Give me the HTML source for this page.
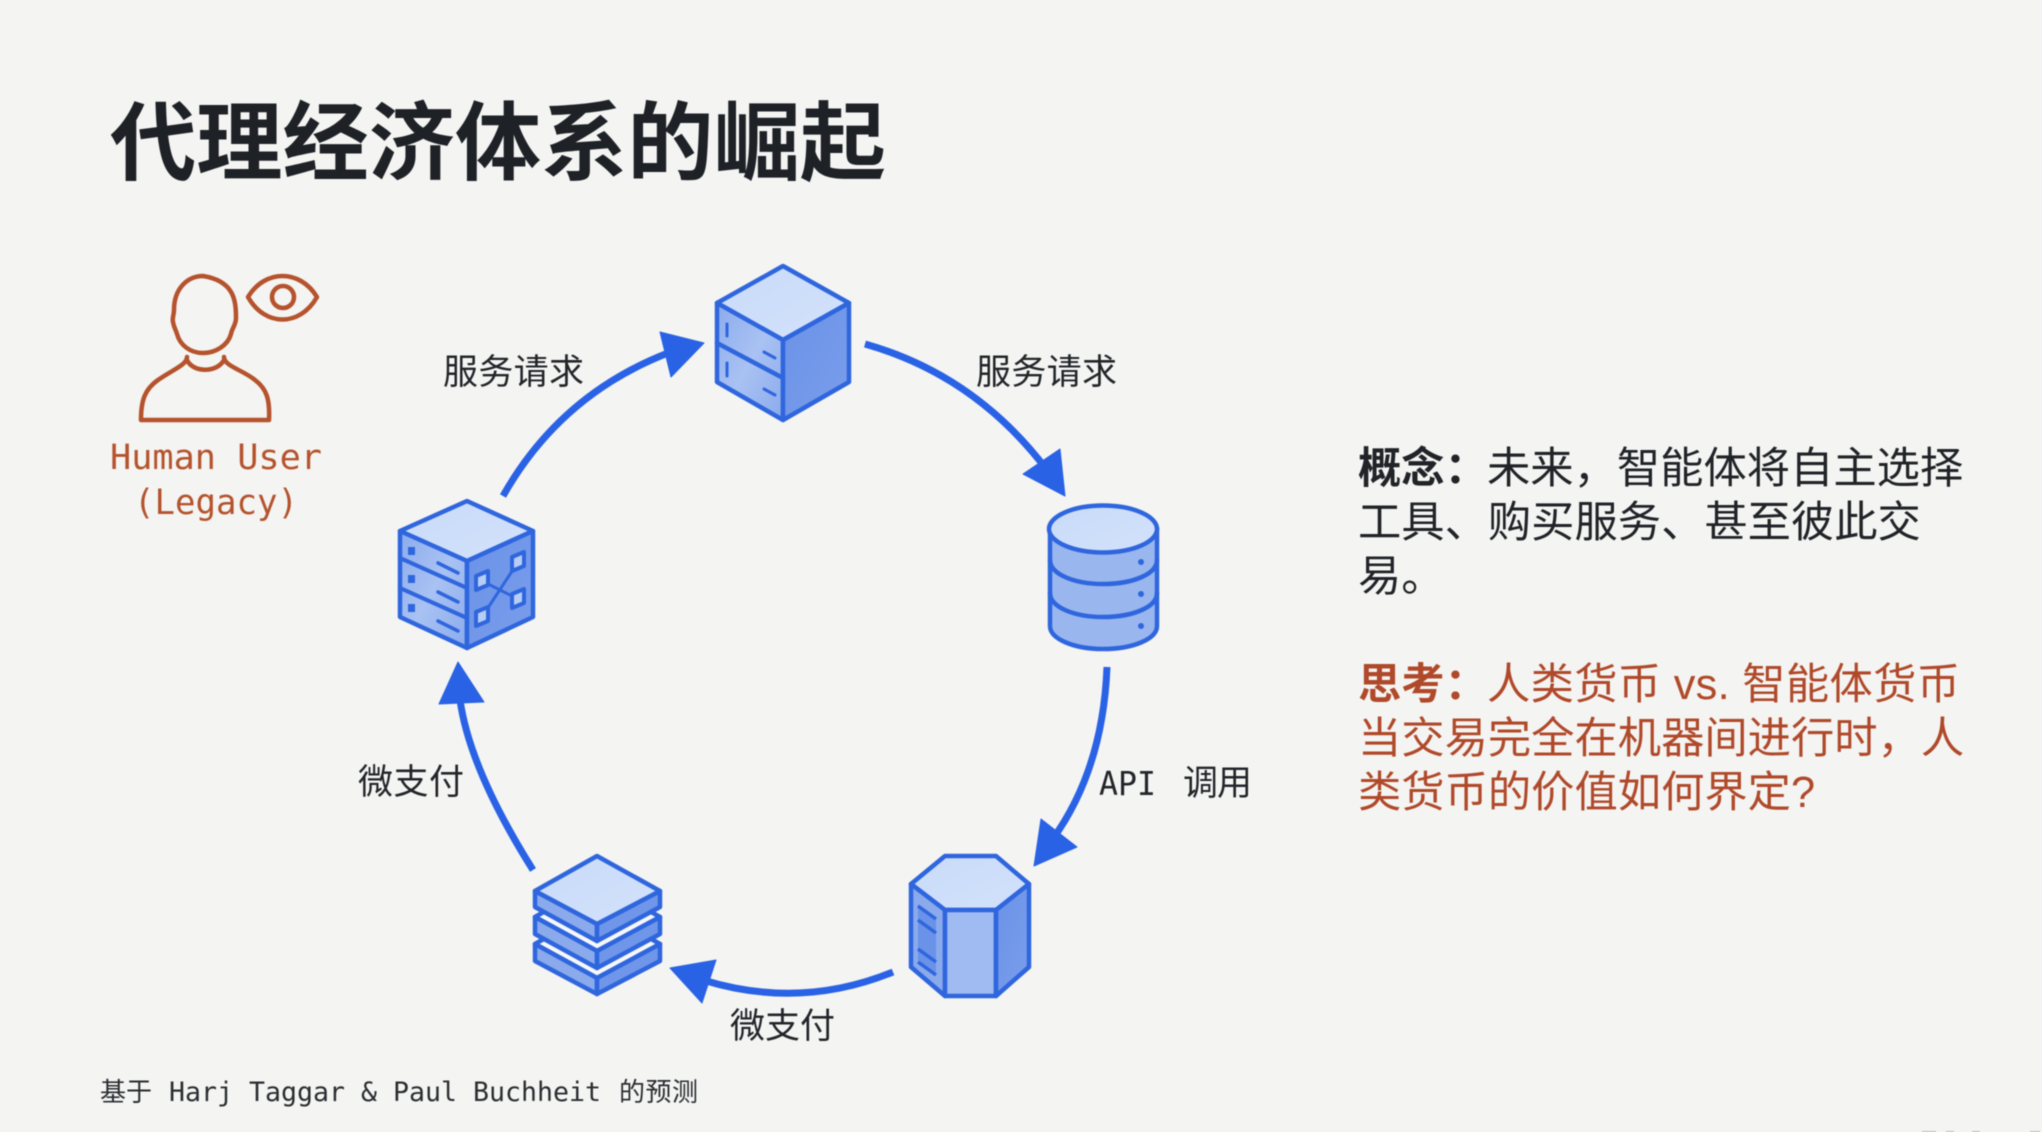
<!DOCTYPE html>
<html lang="zh-CN">
<head>
<meta charset="utf-8">
<title>代理经济体系的崛起</title>
<style>
html,body{margin:0;padding:0;background:#f4f4f2;width:2042px;height:1132px;overflow:hidden}
svg{display:block;filter:blur(.6px)}
.cjk{font-family:"Liberation Sans","Noto Sans CJK SC",sans-serif}
.mono{font-family:"DejaVu Sans Mono","Liberation Mono","Noto Sans CJK SC",monospace}
.lab{font-family:"Liberation Sans","Noto Sans CJK SC",sans-serif;font-size:35px;fill:#222529}
.body{font-family:"Liberation Sans","Noto Sans CJK SC",sans-serif;font-size:43.3px}
.i{stroke:#2f66de;stroke-width:4.5;stroke-linejoin:round;stroke-linecap:round}
.a{fill:none;stroke:#2a62e6;stroke-width:7;stroke-linecap:butt}
.h{fill:#2a62e6;stroke:#2a62e6;stroke-width:1;stroke-linejoin:round}
.p{fill:none;stroke:#b5532d;stroke-width:4.5;stroke-linejoin:round;stroke-linecap:round}
</style>
</head>
<body>
<svg width="2042" height="1132" viewBox="0 0 2042 1132" xmlns="http://www.w3.org/2000/svg">
<defs>
<linearGradient id="t" x1="0" y1="0" x2="1" y2="1"><stop offset="0" stop-color="#c9dbf9"/><stop offset="1" stop-color="#d3e2fb"/></linearGradient>
<linearGradient id="l" x1="0" y1="0" x2="1" y2="1"><stop offset="0" stop-color="#8babec"/><stop offset=".5" stop-color="#a9c2f3"/><stop offset="1" stop-color="#8aaaec"/></linearGradient>
<linearGradient id="r" x1="0" y1="0" x2="1" y2="1"><stop offset="0" stop-color="#6a92e8"/><stop offset="1" stop-color="#7b9eeb"/></linearGradient>
</defs>
<rect width="2042" height="1132" fill="#f4f4f2"/>

<!-- Title -->
<text class="cjk" x="110" y="173" font-size="86" font-weight="700" fill="#1e2227" textLength="776" lengthAdjust="spacingAndGlyphs">代理经济体系的崛起</text>

<!-- Person -->
<path class="p" d="M203 276C188 276 174 288 174 310C174 315 172 318 173 322C174 328 176 330 177 334C180 345 190 353 203 353C216 353 228 345 231 334C232 328 236 325 236 318C236 300 234 281 203 276Z"/>
<path class="p" d="M187 357C187 365 172 370 158 380C145 389 141 400 141 420L269 420C270 400 267 389 255 380C243 370 224 366 224 357"/>
<path class="p" d="M187 360C193 373 217 373 224 360"/>
<path class="p" d="M248 297C265 269 300 269 317 297C300 327 265 327 248 297Z"/>
<circle class="p" cx="283" cy="297" r="11"/>
<text class="mono" x="110" y="469" font-size="35" fill="#b5532d" textLength="212" lengthAdjust="spacingAndGlyphs">Human User</text>
<text class="mono" x="134" y="514" font-size="35" fill="#b5532d" textLength="164" lengthAdjust="spacingAndGlyphs">(Legacy)</text>

<!-- Top cube -->
<g class="i">
<polygon points="783,266 849,303 783,340 717,303" fill="url(#t)"/>
<polygon points="717,303 783,340 783,420 717,382" fill="url(#l)"/>
<polygon points="849,303 849,382 783,420 783,340" fill="url(#r)"/>
<path d="M717 343L783 378" fill="none"/>
<path d="M727 324V336M727 363V376M764 352L775 358M764 389L775 395" fill="none" stroke-width="3"/>
</g>

<!-- Database -->
<g class="i">
<path d="M1050 528V626C1050 639 1074 649 1103 649C1133 649 1157 639 1157 626V528Z" fill="#9ab6ef"/>
<ellipse cx="1103" cy="529" rx="54" ry="23.5" fill="url(#t)"/>
<path d="M1050 560C1050 574 1074 584 1103 584C1133 584 1157 574 1157 560M1050 593C1050 607 1074 617 1103 617C1133 617 1157 607 1157 593" fill="none"/>
</g>
<g fill="#2f66de"><circle cx="1141" cy="562" r="3"/><circle cx="1141" cy="594" r="3"/><circle cx="1141" cy="626" r="3"/></g>

<!-- Hex -->
<g class="i">
<polygon points="945,856 996,856 1029,884 996,910 945,910 911,884" fill="url(#t)"/>
<polygon points="911,884 945,910 945,996 911,967" fill="#8aaaec"/>
<polygon points="945,910 996,910 996,996 945,996" fill="#a0bbf1"/>
<polygon points="996,910 1029,884 1029,967 996,996" fill="url(#r)"/>
</g>
<polygon points="918,905 936,919 936,975 918,960" fill="#6a92e8"/>
<path d="M918 906L936 919M918 920L936 933M918 949L936 962M918 962L936 975" stroke="#2f66de" stroke-width="3.5" fill="none"/>

<!-- Stack -->
<g class="i">
<polygon points="535,944 597,978 660,944 597,908" fill="#f6f7f9"/>
<polygon points="535,944 597,978 597,994 535,961" fill="#8aaaec"/>
<polygon points="660,944 597,978 597,994 660,961" fill="#6f96e9"/>
<polygon points="535,917 597,951 660,917 597,881" fill="#f6f7f9"/>
<polygon points="535,917 597,951 597,968 535,934" fill="#8aaaec"/>
<polygon points="660,917 597,951 597,968 660,934" fill="#6f96e9"/>
<polygon points="535,891 597,924 597,941 535,907" fill="#8aaaec"/>
<polygon points="660,891 597,924 597,941 660,907" fill="#6f96e9"/>
<polygon points="597,856 660,891 597,924 535,891" fill="url(#t)"/>
</g>

<!-- Left cube -->
<g class="i">
<polygon points="467,501 533,531 467,561 400,531" fill="url(#t)"/>
<polygon points="400,531 467,561 467,648 400,617" fill="url(#l)"/>
<polygon points="533,531 533,617 467,648 467,561" fill="url(#r)"/>
<path d="M400 558L467 588M400 588L467 618" fill="none" stroke-width="4"/>
<path d="M438 563L458 573M438 592L458 602M438 621L458 631" fill="none" stroke-width="3.5"/>
<path d="M482 581L518 599M482 617L518 562" fill="none" stroke-width="3"/>
</g>
<g fill="#2f66de"><rect x="408" y="547" width="7" height="8"/><rect x="408" y="575" width="7" height="8"/><rect x="408" y="604" width="7" height="8"/></g>
<g fill="#b7cdf6" stroke="#2f66de" stroke-width="4" stroke-linejoin="round">
<polygon points="476,576 488,571 488,585 476,590"/>
<polygon points="512,557 524,552 524,566 512,571"/>
<polygon points="476,612 488,607 488,621 476,626"/>
<polygon points="512,594 524,589 524,603 512,608"/>
</g>

<!-- Arrows -->
<path class="a" d="M865 344Q975 375 1047 470"/><polygon class="h" points="1065,496 1060,449 1023,474"/>
<path class="a" d="M1107 667Q1103 770 1052 840"/><polygon class="h" points="1034,866 1041,819 1077,847"/>
<path class="a" d="M893 972Q800 1010 703 980"/><polygon class="h" points="670,968 716,960 702,1003"/>
<path class="a" d="M533 870Q470 770 460 700"/><polygon class="h" points="458,662 439,704 484,702"/>
<path class="a" d="M503 496Q560 395 668 353"/><polygon class="h" points="704,343 660,332 671,377"/>

<!-- Labels -->
<text class="lab" x="443" y="384" textLength="141">服务请求</text>
<text class="lab" x="976" y="384" textLength="141">服务请求</text>
<text class="mono" x="1099" y="795" font-size="33" fill="#222529" textLength="57" lengthAdjust="spacingAndGlyphs">API</text>
<text class="lab" x="1183" y="795" font-size="34" textLength="69">调用</text>
<text class="lab" x="358" y="794" textLength="106">微支付</text>
<text class="lab" x="730" y="1038" textLength="105">微支付</text>

<!-- Footer -->
<text class="cjk" x="100" y="1101" font-size="26" fill="#2a2d31" textLength="52">基于</text>
<text class="mono" x="169" y="1101" font-size="27" fill="#2a2d31" textLength="432" lengthAdjust="spacingAndGlyphs">Harj Taggar &amp; Paul Buchheit</text>
<text class="cjk" x="619" y="1101" font-size="26" fill="#2a2d31" textLength="79">的预测</text>

<!-- Right text -->
<text class="body" y="483" fill="#202327"><tspan x="1358" font-weight="700">概念：</tspan><tspan x="1487">未来，智能体将自主选择</tspan></text>
<text class="body" x="1358" y="537" fill="#202327">工具、购买服务、甚至彼此交</text>
<text class="body" x="1358" y="591" fill="#202327">易。</text>
<text class="body" x="1358" y="699" fill="#b0492a" font-weight="700">思考：</text>
<text class="body" x="1487" y="699" fill="#b0492a" textLength="473">人类货币 vs. 智能体货币</text>
<text class="body" x="1358" y="753" fill="#b0492a">当交易完全在机器间进行时，人</text>
<text class="body" x="1358" y="807" fill="#b0492a">类货币的价值如何界定?</text>

<!-- Cut-off marks along the bottom edge -->
<g fill="#b9b9b7"><rect x="1922" y="1131" width="14" height="1"/><rect x="1946" y="1131" width="8" height="1"/><rect x="1972" y="1131" width="8" height="1"/><rect x="2030" y="1131" width="10" height="1"/></g>
</svg>
</body>
</html>
